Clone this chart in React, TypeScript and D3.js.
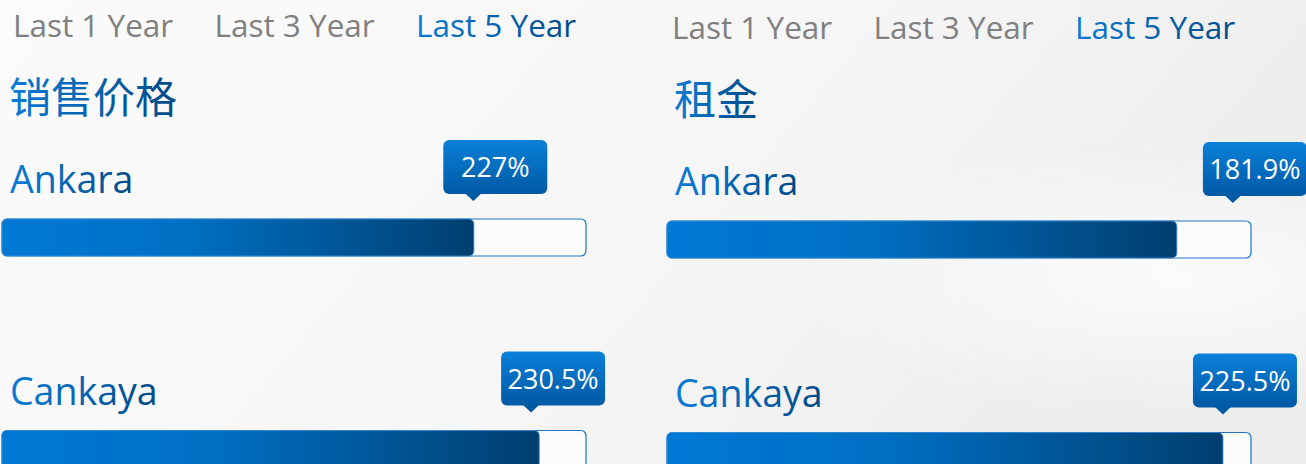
import * as d3 from "d3";

const periods = ["Last 1 Year", "Last 3 Year", "Last 5 Year"];
const activePeriod = "Last 5 Year";
const panelTitles = ["销售价格", "租金"];
const regions = ["Ankara", "Cankaya"];

// percentage labels shown in the badges
const salesChange = [227, 230.5];
const rentChange = [181.9, 225.5];

// how far each bar is filled (percent of the track)
const salesFill = [80.8, 92.0];
const rentFill = [87.3, 95.2];

// where the badge pointer sits (percent of the track)
const salesMarker = [80.7, 90.6];
const rentMarker = [96.9, 95.2];

const W = 1306;
const H = 464;

const panels = [
  { title: panelTitles[0], values: salesChange, fill: salesFill, marker: salesMarker, x: 0, dy: 0, tabDx: 0 },
  { title: panelTitles[1], values: rentChange, fill: rentFill, marker: rentMarker, x: 665, dy: 2, tabDx: -6 },
];

const font = "'Open Sans', 'Noto Sans', sans-serif";
const cjkFont = "'Noto Sans CJK SC', sans-serif";

const trackX = 2;
const trackW = 584;
const trackH = 37;
const badgeW = 104;
const badgeH = 54;

const xScale = d3.scaleLinear().domain([0, 100]).range([trackX, trackX + trackW]);
const tabScale = d3.scaleBand().domain(periods).range([13, 13 + 3 * 201.5]);
const rowScale = d3.scaleBand().domain(regions).range([0, 2 * 211.5]);

const App = () => {
  return (
    <svg
      width={W}
      height={H}
      style={{ position: "absolute", left: 0, top: 0 }}
      fontFamily={font}
    >
      <defs>
        <linearGradient id="bg" x1="0" y1="0" x2="1" y2="0.3">
          <stop offset="0" stopColor="#fbfbfb" />
          <stop offset="0.6" stopColor="#f6f6f6" />
          <stop offset="1" stopColor="#ededed" />
        </linearGradient>
        <radialGradient id="glow" cx="0.9" cy="0.6" r="0.3">
          <stop offset="0" stopColor="#ffffff" stopOpacity="0.8" />
          <stop offset="1" stopColor="#ffffff" stopOpacity="0" />
        </radialGradient>
        <linearGradient id="textGrad" x1="0" y1="0" x2="1" y2="0">
          <stop offset="0" stopColor="#0a7bd7" />
          <stop offset="1" stopColor="#004a86" />
        </linearGradient>
        <linearGradient id="barGrad" x1="0" y1="0" x2="1" y2="0">
          <stop offset="0" stopColor="#0079d6" />
          <stop offset="0.4" stopColor="#006fc2" />
          <stop offset="1" stopColor="#003f6f" />
        </linearGradient>
        <linearGradient id="badgeGrad" x1="0" y1="0" x2="0" y2="1">
          <stop offset="0" stopColor="#0a80d9" />
          <stop offset="1" stopColor="#0059a4" />
        </linearGradient>
      </defs>

      <rect width={W} height={H} fill="url(#bg)" />
      <rect width={W} height={H} fill="url(#glow)" />

      {panels.map((p, pi) => (
        <g key={pi} transform={`translate(${p.x}, ${p.dy})`}>
          {periods.map((t) => (
            <text
              key={t}
              x={(tabScale(t) ?? 0) + p.tabDx}
              y={37}
              fontSize={31.5}
              fill={t === activePeriod ? "url(#textGrad)" : "#808080"}
            >
              {t}
            </text>
          ))}

          <text x={9} y={113} fontSize={42} fontFamily={cjkFont} fill="url(#textGrad)">
            {p.title}
          </text>

          {regions.map((r, i) => {
            const y0 = rowScale(r) ?? 0;
            const barTop = 219 + y0;
            const fillEnd = xScale(p.fill[i]);
            const anchor = xScale(p.marker[i]);
            const bx = anchor - 30;
            const by = barTop - 79;
            return (
              <g key={r}>
                <text x={10} y={193 + y0} fontSize={37.5} fill="url(#textGrad)">
                  {r}
                </text>
                <rect
                  x={trackX}
                  y={barTop}
                  width={trackW}
                  height={trackH}
                  rx={5}
                  fill="#fcfcfc"
                  stroke="#1f74c2"
                  strokeWidth={1.2}
                />
                <rect
                  x={trackX}
                  y={barTop}
                  width={fillEnd - trackX}
                  height={trackH}
                  rx={5}
                  fill="url(#barGrad)"
                  stroke="#3b8dd6"
                  strokeWidth={0.8}
                />
                <rect x={bx} y={by} width={badgeW} height={badgeH} rx={6} fill="url(#badgeGrad)" />
                <path
                  d={`M${anchor - 8},${by + badgeH - 0.5} L${anchor},${by + badgeH + 7} L${anchor + 8},${by + badgeH - 0.5} Z`}
                  fill="#0059a4"
                />
                <text
                  x={bx + badgeW / 2}
                  y={by + 37}
                  fontSize={27}
                  fill="#ffffff"
                  textAnchor="middle"
                >
                  {`${p.values[i]}%`}
                </text>
              </g>
            );
          })}
        </g>
      ))}
    </svg>
  );
};

export default App;
